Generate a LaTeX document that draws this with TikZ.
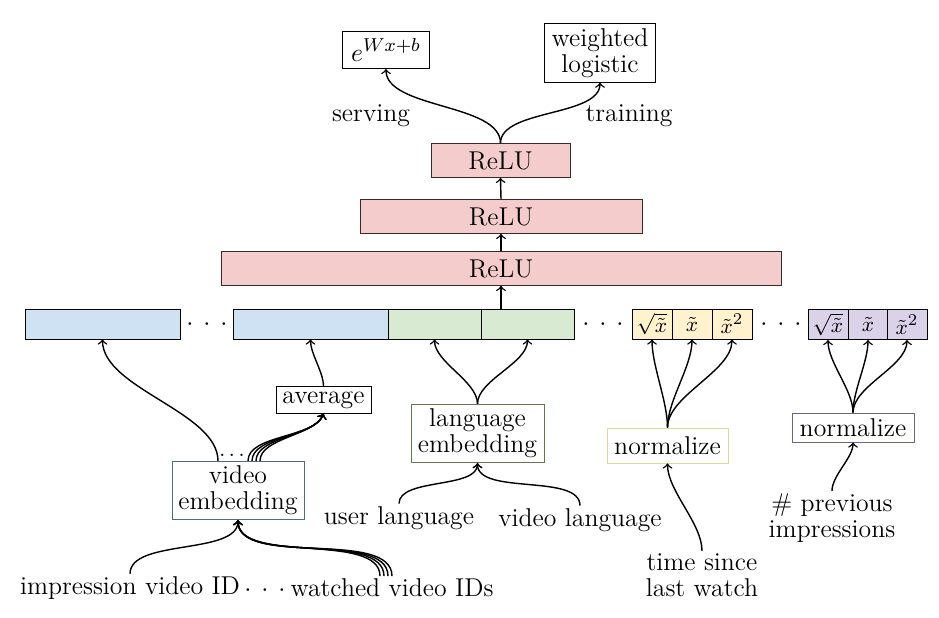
\documentclass[tikz,border=0pt]{standalone}
\usepackage{amsmath}

\newcommand{\pxw}{0.427pt}
\newcommand{\fdots}{$\cdotp\mkern4mu\cdotp\mkern4mu\cdotp$}
\definecolor{embblue}{HTML}{CFE2F3}
\definecolor{langgreen}{HTML}{D9EAD3}
\definecolor{timeyellow}{HTML}{FFF2CC}
\definecolor{imprpurple}{HTML}{D9D2E9}
\definecolor{relupink}{HTML}{F4CCCC}
\definecolor{reluline}{HTML}{3A2A2A}
\definecolor{vembline}{HTML}{4F6D7A}
\definecolor{langline}{HTML}{5B7B4F}
\definecolor{tnormline}{HTML}{D8D99A}
\definecolor{inormline}{HTML}{6B6585}

\begin{document}
\begin{tikzpicture}[x=0.427pt,y=-0.427pt,
	font=\fontsize{11}{11}\selectfont,
	box/.style={draw,inner sep=2pt,align=center},
	relu/.style={draw=reluline,fill=relupink,minimum height=29*\pxw},
	feat/.style={draw,minimum height=30*\pxw,inner sep=0pt,font=\fontsize{9.5}{9.5}\selectfont},
	txt/.style={inner sep=1pt,align=center},
	link/.style={semithick,->,looseness=0.75}]
		\useasboundingbox (0,0) rectangle (939,618);
		% outputs
		\node[box,minimum width=87*\pxw,minimum height=37*\pxw] (expo) at (386,50) {$e^{Wx+b}$};
		\node[box,minimum width=111*\pxw,minimum height=56*\pxw] (wlog) at (600,53) {weighted\\logistic};
		\node[txt] (serv) at (371,116) {serving};
		\node[txt] (train) at (629,116) {training};
		% relu stack
		\node[relu,minimum width=139*\pxw] (relu3) at (500.5,160.5) {ReLU};
		\node[relu,minimum width=282*\pxw] (relu2) at (501,216.5) {ReLU};
		\node[relu,minimum width=560*\pxw] (relu1) at (501,268.5) {ReLU};
		% feature row
		\node[feat,fill=embblue,minimum width=155*\pxw] (emb1) at (102.5,324) {};
		\node (dots1) at (207,325) {\fdots};
		\node[feat,fill=embblue,minimum width=155*\pxw] (emb2) at (310.5,324) {};
		\node[feat,fill=langgreen,minimum width=93*\pxw] (lang1) at (434.5,324) {};
		\node[feat,fill=langgreen,minimum width=93*\pxw] (lang2) at (527.5,324) {};
		\node (dots2) at (603,325) {\fdots};
		\node[feat,fill=timeyellow,minimum width=40*\pxw] (ta) at (652,324) {$\sqrt{\tilde{x}}$};
		\node[feat,fill=timeyellow,minimum width=40*\pxw] (tb) at (692,324) {$\tilde{x}$};
		\node[feat,fill=timeyellow,minimum width=40*\pxw] (tc) at (732,324) {$\tilde{x}^2$};
		\node (dots3) at (781,325) {\fdots};
		\node[feat,fill=imprpurple,minimum width=40*\pxw] (ia) at (828,324.5) {$\sqrt{\tilde{x}}$};
		\node[feat,fill=imprpurple,minimum width=40*\pxw] (ib) at (868,324.5) {$\tilde{x}$};
		\node[feat,fill=imprpurple,minimum width=40*\pxw] (ic) at (907,324.5) {$\tilde{x}^2$};
		% middle boxes
		\node[box,minimum width=95*\pxw,minimum height=26*\pxw] (avg) at (323.5,400) {average};
		\node[box,draw=vembline,minimum width=132*\pxw,minimum height=57*\pxw] (vemb) at (238,490.5) {video\\embedding};
		\node (vdots) at (232,455) {\small$\ldots$};
		\node[box,draw=langline,minimum width=133*\pxw,minimum height=55*\pxw] (lemb) at (477.5,433.5) {language\\embedding};
		\node[box,draw=tnormline,minimum width=121*\pxw,minimum height=35*\pxw] (tnorm) at (667.5,445.5) {normalize};
		\node[box,draw=inormline,minimum width=122*\pxw,minimum height=29*\pxw] (inorm) at (853,427.5) {normalize};
		% inputs
		\node[txt] (ulang) at (399,518) {user language};
		\node[txt] (vlang) at (580,520) {video language};
		\node[txt] (tsince) at (702,575) {time since\\last watch};
		\node[txt] (nprev) at (832,518) {\# previous\\impressions};
		\node[txt] (impr) at (130,588) {impression video ID};
		\node[txt] (bdots) at (265,591) {\fdots};
		\node[txt] (watch) at (392,588) {watched video IDs};
		% connectors
		\draw[link] (relu3.north) to[out=90,in=-90] (expo.south);
		\draw[link] (relu3.north) to[out=90,in=-90] (wlog.south);
		\draw[link] (relu2.north) -- (relu3.south);
		\draw[link] (relu1.north) -- (relu2.south);
		\draw[link] (relu1.south |- lang2.north) -- (relu1.south);
		\draw[link] ([xshift=-20*\pxw]vemb.north) to[out=90,in=-90] (emb1.south);
		\foreach \s in {10,14,18,22}
			\draw[link] ([xshift=\s*\pxw]vemb.north) to[out=90,in=-110] (avg.south);
		\draw[link] (avg.north) to[out=90,in=-90] (emb2.south);
		\draw[link] (lemb.north) to[out=90,in=-90] (lang1.south);
		\draw[link] (lemb.north) to[out=90,in=-90] (lang2.south);
		\draw[link] (ulang.north) to[out=90,in=-90] (lemb.south);
		\draw[link] (vlang.north) to[out=90,in=-90] (lemb.south);
		\foreach \f in {ta,tb,tc}
			\draw[link] (tnorm.north) to[out=90,in=-90] (\f.south);
		\draw[link] (tsince.north) to[out=90,in=-90] (tnorm.south);
		\foreach \f in {ia,ib,ic}
			\draw[link] (inorm.north) to[out=90,in=-90] (\f.south);
		\draw[link] (nprev.north) to[out=90,in=-90] (inorm.south);
		\draw[link] (impr.north) to[out=90,in=-90] (vemb.south);
		\foreach \s in {-12,-8,-4,0}
			\draw[link] ([xshift=\s*\pxw]watch.north) to[out=90,in=-90] (vemb.south);
	\end{tikzpicture}
\end{document}
